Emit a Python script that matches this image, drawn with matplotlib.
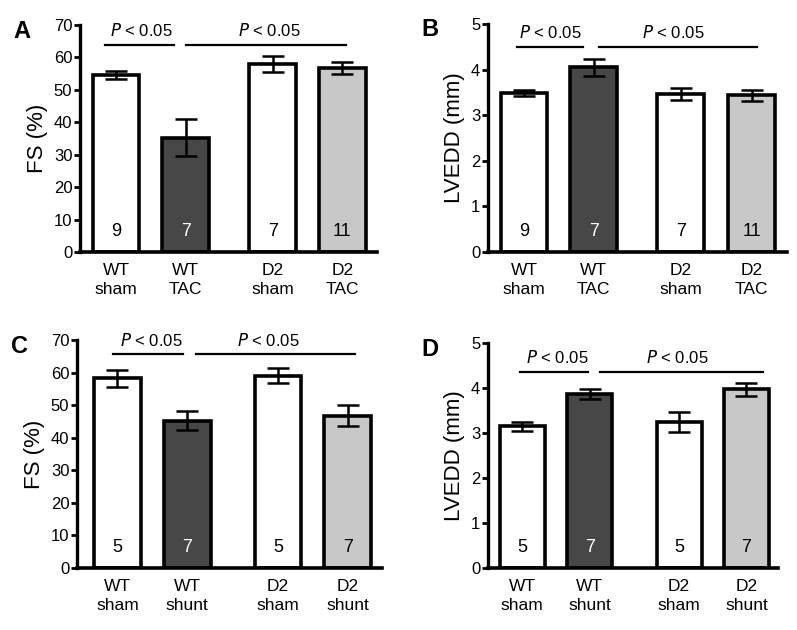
import matplotlib
matplotlib.use("Agg")
import matplotlib.pyplot as plt
from matplotlib.transforms import blended_transform_factory

plt.rcParams['font.family'] = ['Liberation Sans', 'DejaVu Sans']

# ---- data ----
colors = ['#ffffff', '#474747', '#ffffff', '#c8c8c8']
ncolors = ['black', 'white', 'black', 'black']

labels_tac = ['WT\nsham', 'WT\nTAC', 'D2\nsham', 'D2\nTAC']
labels_shunt = ['WT\nsham', 'WT\nshunt', 'D2\nsham', 'D2\nshunt']

fs_tac = [54.5, 35.3, 58.0, 56.7]
fs_tac_err = [1.2, 5.6, 2.4, 1.9]
fs_tac_n = ['9', '7', '7', '11']

lvedd_tac = [3.49, 4.05, 3.47, 3.44]
lvedd_tac_err = [0.07, 0.18, 0.13, 0.12]
lvedd_tac_n = ['9', '7', '7', '11']

fs_shunt = [58.2, 45.2, 59.0, 46.8]
fs_shunt_err = [2.7, 2.9, 2.3, 3.1]
fs_shunt_n = ['5', '7', '5', '7']

lvedd_shunt = [3.15, 3.86, 3.24, 3.97]
lvedd_shunt_err = [0.10, 0.11, 0.22, 0.15]
lvedd_shunt_n = ['5', '7', '5', '7']

p_text = r'$\it{P}$ < 0.05'

fs_ticks = [0, 10, 20, 30, 40, 50, 60, 70]
lvedd_ticks = [0, 1, 2, 3, 4, 5]

fig = plt.figure(figsize=(7.97, 6.3), dpi=100)

W, H = 797, 630
def ax_at(l, r, b, t):
    return fig.add_axes([l / W, 1 - b / H, (r - l) / W, (b - t) / H])

panels = [
    dict(box=(80, 377, 252, 25), xlim=(-0.52, 3.75), pos=[0, 1, 2.25, 3.25],
         vals=fs_tac, err=fs_tac_err, n=fs_tac_n, labels=labels_tac,
         ylim=70, ticks=fs_ticks, ylabel='FS (%)', letter='A', sig_y=63.9,
         l1=(-0.16, 0.83), l2=(1.0, 3.3), t1=0.36, t2=2.20),
    dict(box=(488, 787, 252, 24), xlim=(-0.52, 3.78), pos=[0, 1, 2.25, 3.27],
         vals=lvedd_tac, err=lvedd_tac_err, n=lvedd_tac_n, labels=labels_tac,
         ylim=5, ticks=lvedd_ticks, ylabel='LVEDD (mm)', letter='B', sig_y=4.5,
         l1=(-0.1, 0.84), l2=(1.08, 3.35), t1=0.37, t2=2.15),
    dict(box=(77, 382, 568, 340), xlim=(-0.58, 3.79), pos=[0, 1, 2.3, 3.3],
         vals=fs_shunt, err=fs_shunt_err, n=fs_shunt_n, labels=labels_shunt,
         ylim=70, ticks=fs_ticks, ylabel='FS (%)', letter='C', sig_y=65.7,
         l1=(-0.06, 0.94), l2=(1.12, 3.41), t1=0.48, t2=2.16),
    dict(box=(488, 778, 568, 343), xlim=(-0.51, 3.8), pos=[0, 1, 2.33, 3.33],
         vals=lvedd_shunt, err=lvedd_shunt_err, n=lvedd_shunt_n, labels=labels_shunt,
         ylim=5, ticks=lvedd_ticks, ylabel='LVEDD (mm)', letter='D', sig_y=4.36,
         l1=(-0.03, 0.98), l2=(1.16, 3.57), t1=0.52, t2=2.3),
]

for p in panels:
    ax = ax_at(*p['box'])
    pos = p['pos']
    ax.bar(pos, p['vals'], width=0.67, color=colors, edgecolor='black',
           linewidth=2.6, zorder=2)
    ax.errorbar(pos, p['vals'], yerr=p['err'], fmt='none', ecolor='black',
                elinewidth=1.8, capsize=8, capthick=1.8, zorder=3)
    ax.set_xlim(*p['xlim'])
    ax.set_ylim(0, p['ylim'])
    ax.set_yticks(p['ticks'])
    ax.set_xticks(pos)
    ax.set_xticklabels(p['labels'], fontsize=12.5, linespacing=1.35)
    ax.tick_params(axis='x', length=0, pad=8)
    ax.tick_params(axis='y', length=4, width=2, labelsize=12, pad=1.5)
    for s in ['top', 'right']:
        ax.spines[s].set_visible(False)
    ax.spines['left'].set_linewidth(2.4)
    ax.spines['bottom'].set_linewidth(2.6)
    ax.set_ylabel(p['ylabel'], fontsize=16, labelpad=4)
    tr = blended_transform_factory(ax.transData, ax.transAxes)
    for x, t, c in zip(pos, p['n'], ncolors):
        ax.text(x, 0.09, t, transform=tr, ha='center', va='center', fontsize=13, color=c)
    # significance lines
    sy = p['sig_y']
    ax.plot(list(p['l1']), [sy, sy], color='black', lw=1.6, clip_on=False)
    ax.plot(list(p['l2']), [sy, sy], color='black', lw=1.6, clip_on=False)
    for tx in (p['t1'], p['t2']):
        ax.annotate(p_text, xy=(tx, sy), xytext=(0, 6), textcoords='offset points',
                    ha='center', va='baseline', fontsize=12, annotation_clip=False)
    l, r, b, t = p['box']
    fig.text((l - 58) / W, 1 - (t + 6) / H, p['letter'], fontsize=17, fontweight='bold',
             ha='center', va='center')

fig.savefig('out.png', dpi=100)
